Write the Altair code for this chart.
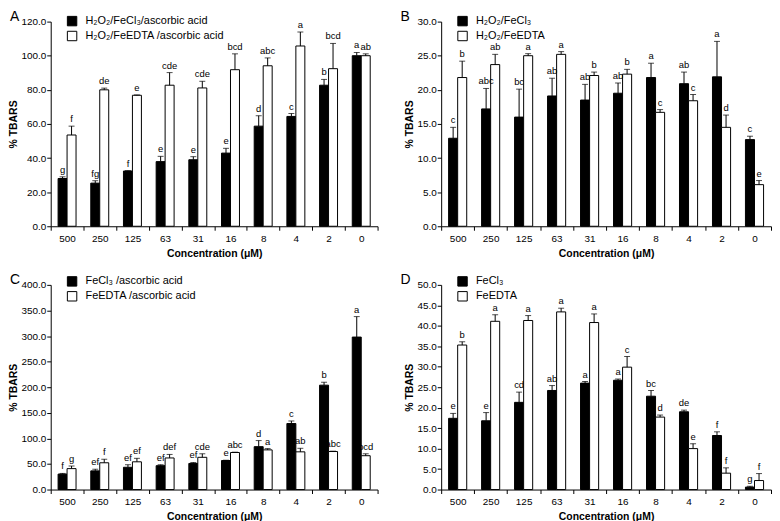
import altair as alt
import pandas as pd

concs = ["500", "250", "125", "63", "31", "16", "8", "4", "2", "0"]

# Panel A
a_names = ["H₂O₂/FeCl₃/ascorbic acid", "H₂O₂/FeEDTA /ascorbic acid"]
a_blk = [28.0, 25.3, 32.4, 37.9, 39.0, 42.9, 58.7, 64.4, 82.7, 100.0]
a_blk_top = [29.0, 26.7, 32.6, 41.0, 40.8, 45.7, 64.8, 66.1, 86.1, 101.9]
a_blk_let = ["g", "fg", "f", "e", "e", "e", "d", "c", "b", "a"]
a_wht = [53.5, 80.0, 76.8, 82.7, 81.1, 91.8, 94.1, 105.7, 92.4, 100.0]
a_wht_top = [58.7, 81.0, 77.0, 90.1, 85.0, 101.1, 98.7, 113.9, 107.2, 101.1]
a_wht_let = ["f", "de", "e", "cde", "cde", "bcd", "abc", "a", "bcd", "ab"]

# Panel B
b_names = ["H₂O₂/FeCl₃", "H₂O₂/FeEDTA"]
b_blk = [12.9, 17.2, 16.0, 19.1, 18.5, 19.5, 21.8, 20.9, 21.9, 12.7]
b_blk_top = [14.5, 20.2, 20.1, 21.7, 20.8, 21.0, 23.9, 22.6, 27.1, 13.2]
b_blk_let = ["c", "abc", "bc", "ab", "ab", "ab", "a", "ab", "a", "c"]
b_wht = [21.8, 23.7, 25.0, 25.2, 22.1, 22.3, 16.7, 18.4, 14.5, 6.1]
b_wht_top = [24.2, 25.2, 25.3, 25.6, 22.6, 23.0, 17.1, 19.3, 16.3, 6.7]
b_wht_let = ["b", "ab", "a", "a", "b", "b", "c", "c", "d", "e"]

# Panel C
c_names = ["FeCl₃ /ascorbic acid", "FeEDTA /ascorbic acid"]
c_blk = [30.2, 36.5, 43.5, 46.6, 51.0, 56.7, 83.8, 129.0, 204.0, 298.0]
c_blk_top = [31.5, 39.7, 48.5, 48.5, 52.9, 57.3, 95.7, 134.0, 209.7, 338.0]
c_blk_let = ["f", "ef", "ef", "ef", "ef", "e", "d", "c", "b", "a"]
c_wht = [40.9, 52.3, 54.2, 61.7, 63.0, 72.4, 77.5, 73.7, 74.3, 66.1]
c_wht_top = [46.0, 59.2, 61.0, 68.6, 69.9, 73.0, 80.0, 80.6, 75.0, 69.9]
c_wht_let = ["g", "f", "ef", "def", "cde", "abc", "a", "ab", "abc", "bcd"]

# Panel D
d_names = ["FeCl₃", "FeEDTA"]
d_blk = [17.4, 16.8, 21.3, 24.2, 26.0, 26.7, 22.8, 19.0, 13.2, 0.6]
d_blk_top = [18.6, 18.8, 23.8, 25.4, 26.4, 27.0, 24.2, 19.4, 14.1, 0.8]
d_blk_let = ["e", "e", "cd", "ab", "a", "a", "bc", "de", "f", "g"]
d_wht = [35.3, 41.1, 41.3, 43.4, 40.8, 29.9, 17.7, 10.0, 4.0, 2.2]
d_wht_top = [36.1, 42.7, 42.5, 44.3, 42.9, 32.5, 18.2, 11.2, 5.3, 3.9]
d_wht_let = ["b", "a", "a", "a", "a", "c", "d", "e", "f", "f"]

FONT = "Liberation Sans"
H = 206


def build_df(names, blk, blk_top, blk_let, wht, wht_top, wht_let):
    rows = []
    for i, c in enumerate(concs):
        rows.append({"conc": c, "series": names[0], "val": blk[i], "top": blk_top[i], "let": blk_let[i]})
        rows.append({"conc": c, "series": names[1], "val": wht[i], "top": wht_top[i], "let": wht_let[i]})
    return pd.DataFrame(rows)


def panel(label, names, df, ymax, ystep, width, leg_y, row_pad):
    xscale = alt.Scale(paddingInner=0, paddingOuter=0)
    xaxis = alt.Axis(title="Concentration  (μM)", labelAngle=0, tickBand="extent",
                     tickSize=4, labelFontSize=10, titleFontSize=10.5,
                     titleFontWeight="bold", labelPadding=3, titlePadding=5,
                     domainColor="black", tickColor="black", labelColor="black",
                     titleColor="black")
    xenc = alt.X("conc:N", sort=concs, scale=xscale, axis=xaxis)
    xoff = alt.XOffset("series:N", sort=names,
                       scale=alt.Scale(domain=names, paddingInner=0, paddingOuter=0.82))
    yscale = alt.Scale(domain=[0, ymax], nice=False, zero=True)
    yaxis = alt.Axis(title="% TBARS", values=list(range(0, ymax + 1, ystep)),
                     format=".1f", grid=False, tickSize=4, labelFontSize=10,
                     labelOverlap=False,
                     titleFontSize=10.5, titleFontWeight="bold", titlePadding=2,
                     labelPadding=1, domainColor="black", tickColor="black",
                     labelColor="black", titleColor="black")
    base = alt.Chart(df)
    bars = base.mark_bar(stroke="black", strokeWidth=1).encode(
        x=xenc, xOffset=xoff, y=alt.Y("val:Q", scale=yscale, axis=yaxis),
        fill=alt.Fill("series:N", scale=alt.Scale(domain=names, range=["black", "white"]),
                      legend=alt.Legend(title=None, orient="none", legendX=16, legendY=leg_y,
                                        symbolType="square", symbolSize=90,
                                        symbolStrokeColor="black", symbolStrokeWidth=1,
                                        labelFontSize=11, labelColor="black",
                                        labelFont=FONT, rowPadding=row_pad, labelOffset=8)),
    )
    rules = base.mark_rule(color="black", strokeWidth=1).encode(
        x=xenc, xOffset=xoff, y=alt.Y("val:Q", scale=yscale, axis=yaxis), y2="top:Q")
    caps = base.mark_tick(color="black", thickness=1, size=6).encode(
        x=xenc, xOffset=xoff, y=alt.Y("top:Q", scale=yscale, axis=yaxis))
    letters = base.mark_text(baseline="bottom", dy=-2, fontSize=9.5, font=FONT,
                             color="black").encode(
        x=xenc, xOffset=xoff, y=alt.Y("top:Q", scale=yscale, axis=yaxis), text="let:N")
    plab = alt.Chart(pd.DataFrame({"t": [label]})).mark_text(
        align="left", baseline="top", fontSize=14, font=FONT, color="black"
    ).encode(x=alt.value(-41), y=alt.value(-12), text="t:N")
    return alt.layer(bars, rules, caps, letters, plab).properties(width=width, height=H)


pA = panel("A", a_names, build_df(a_names, a_blk, a_blk_top, a_blk_let, a_wht, a_wht_top, a_wht_let), 120, 20, 329, -6, 0)
pB = panel("B", b_names, build_df(b_names, b_blk, b_blk_top, b_blk_let, b_wht, b_wht_top, b_wht_let), 30, 5, 332, -6, 0)
pC = panel("C", c_names, build_df(c_names, c_blk, c_blk_top, c_blk_let, c_wht, c_wht_top, c_wht_let), 400, 50, 329, -9, 0)
pD = panel("D", d_names, build_df(d_names, d_blk, d_blk_top, d_blk_let, d_wht, d_wht_top, d_wht_let), 50, 5, 332, -9, 0)

res = dict(fill="independent", x="independent", y="independent", xOffset="independent")
row1 = alt.hconcat(pA, pB, spacing=22).resolve_scale(**res)
row2 = alt.hconcat(pC, pD, spacing=22).resolve_scale(**res)

chart = alt.vconcat(row1, row2, spacing=14).resolve_scale(**res).properties(
    padding=0
).configure(font=FONT).configure_view(stroke=None)

chart.save("out.html", embed_options={"renderer": "svg", "actions": False})
